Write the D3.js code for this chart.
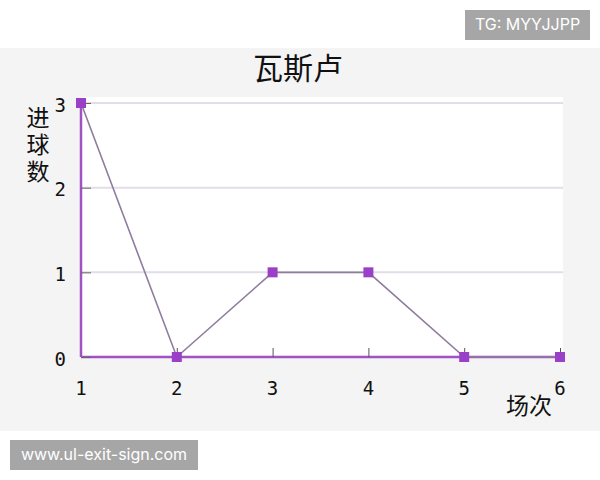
<!DOCTYPE html>
<html>
<head>
<meta charset="utf-8">
<script src="https://cdn.jsdelivr.net/npm/d3@7"></script>
<style>
  body { margin: 0; background: #fff; }
  svg { display: block; }
</style>
</head>
<body>
<svg width="600" height="480"></svg>
<script>
const width = 600,
  height = 480;
const svg = d3.select('svg');

// chart data
const matches = [1, 2, 3, 4, 5, 6];
const goals = [3, 0, 1, 1, 0, 0];
const yTicks = [0, 1, 2, 3];
const title = '瓦斯卢';
const xTitle = '场次';
const yTitle = '进球数';

const plotLeft = 81,
  plotRight = 560,
  plotTop = 103,
  plotBottom = 357;

const x = d3.scaleLinear().domain([1, 6]).range([plotLeft, plotRight]);
const y = d3.scaleLinear().domain([0, 3]).range([plotBottom, plotTop]);

const purple = '#a052c4';
const mono = '"DejaVu Sans Mono", monospace';
const cjk = '"Noto Sans CJK SC", sans-serif';

// gray panel and white plot area
svg.append('rect').attr('x', 0).attr('y', 48).attr('width', width).attr('height', 383).attr('fill', '#f4f4f4');
svg.append('rect').attr('x', plotLeft).attr('y', 97).attr('width', 563 - plotLeft).attr('height', plotBottom - 97).attr('fill', '#fff');

// horizontal grid lines
svg
  .append('g')
  .selectAll('line')
  .data(yTicks.filter((d) => d > 0))
  .join('line')
  .attr('x1', plotLeft)
  .attr('x2', 563)
  .attr('y1', (d) => y(d))
  .attr('y2', (d) => y(d))
  .attr('stroke', '#e2dde8')
  .attr('stroke-width', 2);

// axes
const xAxis = svg
  .append('g')
  .attr('transform', `translate(0,${plotBottom})`)
  .call(d3.axisTop(x).tickValues(matches).tickSize(9).tickFormat(''));
xAxis.select('.domain').attr('stroke', purple).attr('stroke-width', 2.5).attr('d', `M${plotLeft},0H563`);
xAxis.selectAll('.tick line').attr('stroke', '#555').attr('stroke-width', 1);

const yAxis = svg
  .append('g')
  .attr('transform', `translate(${plotLeft},0)`)
  .call(d3.axisRight(y).tickValues(yTicks).tickSize(10).tickFormat(''));
yAxis.select('.domain').attr('stroke', purple).attr('stroke-width', 2.5).attr('d', `M0,${plotTop}V${plotBottom}`);
yAxis.selectAll('.tick line').attr('stroke', '#666').attr('stroke-width', 1);

// tick labels
svg
  .append('g')
  .selectAll('text')
  .data(yTicks)
  .join('text')
  .attr('x', 66)
  .attr('y', (d) => y(d) + 3)
  .attr('text-anchor', 'end')
  .attr('dominant-baseline', 'middle')
  .attr('font-family', mono)
  .attr('font-size', 19)
  .attr('fill', '#111')
  .text((d) => d);

svg
  .append('g')
  .selectAll('text')
  .data(matches)
  .join('text')
  .attr('x', (d) => x(d))
  .attr('y', 389)
  .attr('text-anchor', 'middle')
  .attr('dominant-baseline', 'middle')
  .attr('font-family', mono)
  .attr('font-size', 19)
  .attr('fill', '#111')
  .text((d) => d);

// data line
const line = d3
  .line()
  .x((d, i) => x(matches[i]))
  .y((d) => y(d));

svg
  .append('path')
  .datum(goals)
  .attr('fill', 'none')
  .attr('stroke', '#8f7c9f')
  .attr('stroke-width', 1.6)
  .attr('d', line);

// square markers
svg
  .append('g')
  .selectAll('rect')
  .data(goals)
  .join('rect')
  .attr('x', (d, i) => x(matches[i]) - 5)
  .attr('y', (d) => y(d) - 5)
  .attr('width', 10)
  .attr('height', 10)
  .attr('fill', '#9a3fc8');

// titles
svg
  .append('text')
  .attr('x', 298)
  .attr('y', 71)
  .attr('text-anchor', 'middle')
  .attr('dominant-baseline', 'middle')
  .attr('font-family', cjk)
  .attr('font-size', 30)
  .attr('fill', '#111')
  .text(title);

svg
  .append('text')
  .attr('x', 529)
  .attr('y', 408)
  .attr('text-anchor', 'middle')
  .attr('dominant-baseline', 'middle')
  .attr('font-family', cjk)
  .attr('font-size', 23)
  .attr('fill', '#111')
  .text(xTitle);

// vertical y title
svg
  .append('text')
  .attr('x', 38)
  .attr('y', 106)
  .style('writing-mode', 'vertical-rl')
  .style('letter-spacing', '4px')
  .attr('font-family', cjk)
  .attr('font-size', 23)
  .attr('fill', '#111')
  .text(yTitle);

// watermark labels
const marks = [
  { text: 'TG: MYYJJPP', x: 465, y: 10, w: 125, h: 30 },
  { text: 'www.ul-exit-sign.com', x: 10, y: 440, w: 188, h: 30 },
];
const mg = svg.append('g').selectAll('g').data(marks).join('g');
mg.append('rect')
  .attr('x', (d) => d.x)
  .attr('y', (d) => d.y)
  .attr('width', (d) => d.w)
  .attr('height', (d) => d.h)
  .attr('fill', '#a6a6a6');
mg.append('text')
  .attr('x', (d) => d.x + d.w / 2)
  .attr('y', (d) => d.y + d.h / 2 + 1)
  .attr('text-anchor', 'middle')
  .attr('dominant-baseline', 'middle')
  .attr('font-family', 'Inter, sans-serif')
  .attr('font-size', 16)
  .attr('fill', '#fff')
  .text((d) => d.text);
</script>
</body>
</html>
